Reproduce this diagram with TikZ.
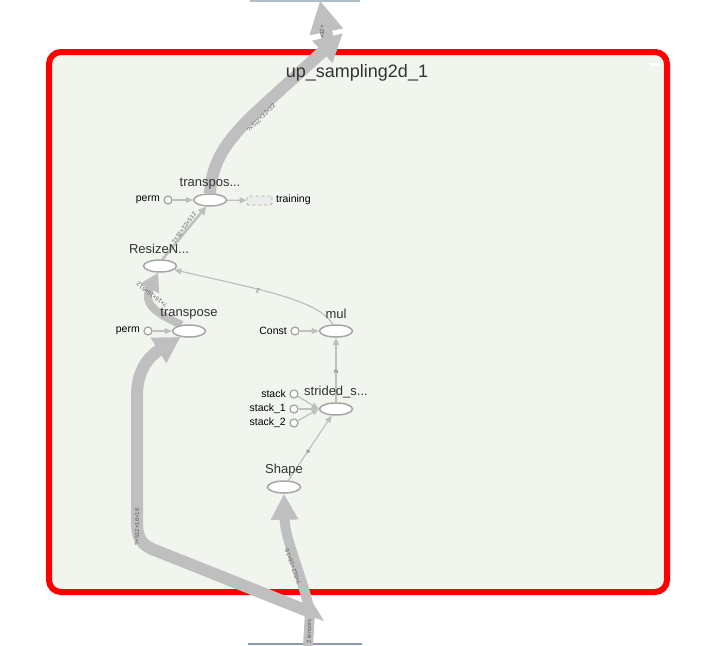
\documentclass[tikz,border=0pt]{standalone}
\usepackage{fontspec}
\setmainfont{Liberation Sans}
\usetikzlibrary{shapes.geometric,arrows.meta}
\pgfdeclarelayer{bg}
\pgfdeclarelayer{edges}
\pgfsetlayers{bg,edges,main}
\definecolor{bgc}{RGB}{240,245,238}
\definecolor{edgec}{RGB}{191,191,191}
\definecolor{nodec}{RGB}{166,166,166}
\definecolor{txtc}{RGB}{51,51,51}
\definecolor{lblc}{RGB}{95,95,95}
\definecolor{extop}{RGB}{176,190,197}
\definecolor{extbot}{RGB}{140,155,171}
\definecolor{trainc}{RGB}{236,236,236}
\begin{document}
\begin{tikzpicture}[x=1pt,y=-1pt,
 opnode/.style={ellipse,draw=nodec,fill=white,line width=1.5pt,minimum width=33pt,minimum height=12pt,inner sep=0pt},
 cnode/.style={circle,draw=nodec,fill=white,line width=1.3pt,minimum size=8pt,inner sep=0pt},
 oplabel/.style={text=txtc,font=\fontsize{13}{13}\selectfont,inner sep=0pt},
 inlabel/.style={text=black,font=\fontsize{10.5}{10.5}\selectfont,inner sep=0pt,anchor=east},
 thinedge/.style={draw=edgec,line width=1.2pt,-{Triangle[length=7pt,width=6pt]}},
 thickedge/.style={draw=edgec,line width=#1},
 elabel/.style={text=lblc,font=\fontsize{6}{6}\selectfont,inner sep=0pt},
]
\useasboundingbox (0,0) rectangle (709,645);
\begin{pgfonlayer}{bg}
\draw[draw=red,line width=6pt,fill=bgc,rounded corners=12pt] (49,52) rectangle (667,592);
\fill[white] (650,63) rectangle (659,65.5);
\fill[extop] (250,0) rectangle (360,1.5);
\fill[extbot] (248,642.5) rectangle (362,645);
\end{pgfonlayer}

\node[text=txtc,font=\fontsize{18}{18}\selectfont,inner sep=0pt] (title) at (357,73) {up\_sampling2d\_1};

% nodes
\node[opnode] (tp) at (210,200) {};
\node[oplabel] (tpl) at (210,184) {transpos...};
\node[cnode] (perm1) at (168,200) {};
\node[inlabel] (perm1l) at (160,200) {perm};
\node[draw=nodec,dashed,fill=trainc,rounded corners=1.5pt,minimum width=25pt,minimum height=9pt,inner sep=0pt,line width=0.8pt] (train) at (259.5,200.5) {};
\node[text=black,font=\fontsize{10.5}{10.5}\selectfont,inner sep=0pt,anchor=west] (trainl) at (276,200) {training};

\node[opnode] (rs) at (160,266) {};
\node[oplabel] (rsl) at (159,249) {ResizeN...};

\node[opnode] (tr) at (189,331) {};
\node[oplabel] (trl) at (189,314) {transpose};
\node[cnode] (perm2) at (148,331) {};
\node[inlabel] (perm2l) at (140,331) {perm};

\node[opnode] (mul) at (336,331) {};
\node[oplabel] (mull) at (336,314) {mul};
\node[cnode] (const) at (295,331) {};
\node[inlabel] (constl) at (287,331) {Const};

\node[opnode] (ss) at (336,409) {};
\node[oplabel] (ssl) at (336,392) {strided\_s...};
\node[cnode] (st0) at (294,394) {};
\node[cnode] (st1) at (294,409) {};
\node[cnode] (st2) at (294,423) {};
\node[inlabel] (st0l) at (286,394) {stack};
\node[inlabel] (st1l) at (286,409) {stack\_1};
\node[inlabel] (st2l) at (286,423) {stack\_2};

\node[opnode] (shape) at (284,487) {};
\node[oplabel] (shapel) at (284,470) {Shape};

\coordinate (inb) at (308,646);
\coordinate (jn) at (310,612);
\coordinate (outa) at (330,50);
\coordinate (outb) at (320,0.5);
\coordinate (bord) at (343,33);

\begin{pgfonlayer}{edges}
% thin edges
\draw[thinedge] (perm1) -- (tp);
\draw[thinedge] (tp) -- (train);
\draw[thinedge] (perm2) -- (tr);
\draw[thinedge] (const) -- (mul);
\draw[thinedge] (st0) -- (ss.west);
\draw[thinedge] (st1) -- (ss.west);
\draw[thinedge] (st2) -- (ss.west);
\draw[thinedge] (ss) -- (mul);
\draw[thinedge] (shape) -- (ss);
\draw[thinedge] (mul.115) .. controls (318,300) and (262,290) .. (rs.-15);
\draw[draw=edgec,line width=2.5pt,-{Triangle[length=8pt,width=8pt]}] (rs.70) -- (tp.240);
% thick edges
\draw[thickedge=8pt,-{Triangle[length=18pt,width=20pt]}] (tr.140) .. controls (160,315) and (141,305) .. (rs.255);
\draw[thickedge=12pt,-{Triangle[length=28pt,width=28pt]}] (tp.north) .. controls (212,160) and (228,140) .. (252,116) -- (bord);
\draw[thickedge=12pt,-{Triangle[length=32pt,width=32pt]}] (outa) -- (outb);
\draw[thickedge=10pt] (inb) -- (jn);
\draw[thickedge=12pt,-{Triangle[length=26pt,width=28pt]}] (jn) -- (152,549) .. controls (139,543) and (137,535) .. (137,520) -- (137,395) .. controls (137,364) and (156,352) .. (tr.215);
\draw[thickedge=10pt,-{Triangle[length=26pt,width=26pt]}] (jn) .. controls (302,575) and (285,540) .. (shape.south);
\fill[edgec] (308,595) -- (324,621) -- (296,612) -- cycle;
\end{pgfonlayer}

% edge labels
\node[elabel,rotate=45] (l1) at (261,118) {?×512×32×32};
\node[elabel,rotate=90] (l2) at (322,32) {×32×};
\node[elabel,rotate=54] (l3) at (184,228) {?×32×32×512};
\node[elabel,rotate=142] (l4) at (152,295) {?×16×16×512};
\node[elabel,rotate=90] (l5) at (137,527) {?×512×16×16};
\node[elabel,rotate=110] (l6) at (293,567) {?×512×16×16};
\node[elabel,rotate=90,anchor=west] (l7) at (309,644) {2 tensors};
\node[elabel,rotate=165] (l8) at (258,291) {2};
\node[elabel,rotate=90] (l9) at (336,372) {2};
\node[elabel,rotate=57] (l10) at (308,452) {4};
\end{tikzpicture}
\end{document}
